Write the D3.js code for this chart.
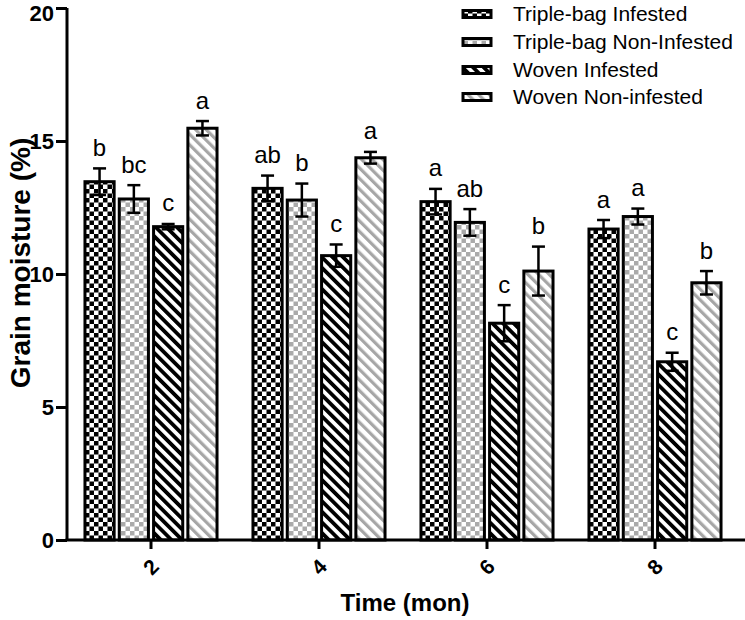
<!DOCTYPE html>
<html><head><meta charset="utf-8">
<script src="https://cdn.jsdelivr.net/npm/d3@7"></script>
<style>body{margin:0;background:#fff}svg{display:block}text{font-family:Arial,"Liberation Sans",sans-serif}</style>
</head><body>
<svg id="c" width="745" height="620"></svg>
<script>
const times = ["2","4","6","8"];
const seriesNames = ["Triple-bag Infested","Triple-bag Non-Infested","Woven Infested","Woven Non-infested"];
const tbInfested = [13.47, 13.22, 12.72, 11.69];
const tbNonInfested = [12.82, 12.78, 11.94, 12.16];
const wovenInfested = [11.78, 10.69, 8.15, 6.70];
const wovenNonInfested = [15.48, 14.37, 10.11, 9.67];
const tbInfestedErr = [0.50, 0.48, 0.48, 0.34];
const tbNonInfestedErr = [0.52, 0.62, 0.50, 0.30];
const wovenInfestedErr = [0.10, 0.42, 0.68, 0.34];
const wovenNonInfestedErr = [0.27, 0.22, 0.92, 0.44];
const tbInfestedLetters = ["b","ab","a","a"];
const tbNonInfestedLetters = ["bc","b","ab","a"];
const wovenInfestedLetters = ["c","c","c","c"];
const wovenNonInfestedLetters = ["a","a","b","b"];
const yTicks = [0,5,10,15,20];

const values = [tbInfested, tbNonInfested, wovenInfested, wovenNonInfested];
const errs = [tbInfestedErr, tbNonInfestedErr, wovenInfestedErr, wovenNonInfestedErr];
const letters = [tbInfestedLetters, tbNonInfestedLetters, wovenInfestedLetters, wovenNonInfestedLetters];

const svg = d3.select("#c");
const defs = svg.append("defs");
function checker(id, col){
  const p = defs.append("pattern").attr("id",id).attr("patternUnits","userSpaceOnUse").attr("width",9).attr("height",9);
  p.append("rect").attr("width",9).attr("height",9).attr("fill","#fff");
  p.append("rect").attr("width",4.5).attr("height",4.5).attr("fill",col);
  p.append("rect").attr("x",4.5).attr("y",4.5).attr("width",4.5).attr("height",4.5).attr("fill",col);
}
function stripes(id, col, w){
  const p = defs.append("pattern").attr("id",id).attr("patternUnits","userSpaceOnUse").attr("width",7.5).attr("height",7.5).attr("patternTransform","rotate(-45)");
  p.append("rect").attr("width",7.5).attr("height",7.5).attr("fill","#fff");
  p.append("rect").attr("width",w).attr("height",7.5).attr("fill",col);
}
checker("p0","#000");
checker("p1","#aaaaaa");
stripes("p2","#000",3.8);
stripes("p3","#a6a6a6",3.2);
const fills = ["url(#p0)","url(#p1)","url(#p2)","url(#p3)"];

const x0 = d3.scaleBand().domain(times).range([67,739]).paddingInner(0.214).paddingOuter(0.107);
const x1 = d3.scaleBand().domain(d3.range(4)).range([0,x0.bandwidth()]).paddingInner(0.15);
const y = d3.scaleLinear().domain([0,20]).range([540,8]);

const g = svg.append("g");
times.forEach((t,i)=>{
  const grp = g.append("g").attr("transform",`translate(${x0(t)},0)`);
  for(let s=0;s<4;s++){
    const v = values[s][i], e = errs[s][i];
    const bx = x1(s), bw = x1.bandwidth(), cx = bx+bw/2;
    grp.append("rect").attr("x",bx).attr("y",y(v)).attr("width",bw).attr("height",y(0)-y(v))
      .attr("fill",fills[s]).attr("stroke","#000").attr("stroke-width",3);
    grp.append("line").attr("x1",cx).attr("x2",cx).attr("y1",y(v-e)).attr("y2",y(v+e)).attr("stroke","#000").attr("stroke-width",2.5);
    grp.append("line").attr("x1",cx-6.5).attr("x2",cx+6.5).attr("y1",y(v+e)).attr("y2",y(v+e)).attr("stroke","#000").attr("stroke-width",2.5);
    grp.append("line").attr("x1",cx-6.5).attr("x2",cx+6.5).attr("y1",y(v-e)).attr("y2",y(v-e)).attr("stroke","#000").attr("stroke-width",2.5);
    grp.append("text").attr("x",cx).attr("y",y(v+e)-12.5).attr("text-anchor","middle").attr("font-size",24).text(letters[s][i]);
  }
});

const FF = "Arial,'Liberation Sans',sans-serif";
// Y axis
const yAxis = svg.append("g").attr("transform","translate(67,0)")
  .call(d3.axisLeft(y).tickValues(yTicks).tickSize(11).tickPadding(2));
yAxis.select(".domain").attr("stroke-width",3).attr("d","M0,"+y(20)+"V"+y(0));
yAxis.selectAll(".tick line").attr("stroke-width",3);
yAxis.selectAll(".tick text").attr("font-size",22).attr("font-weight","bold").attr("fill","#000").attr("font-family",FF)
  .attr("dy", d => d === 20 ? "0.55em" : "0.32em");

// X axis
const xAxis = svg.append("g").attr("transform","translate(0,540)")
  .call(d3.axisBottom(x0).tickSize(9).tickPadding(10).tickSizeOuter(0));
xAxis.select(".domain").attr("stroke-width",3).attr("d","M65.5,0H745");
xAxis.selectAll(".tick line").attr("stroke-width",3);
xAxis.selectAll(".tick text").attr("font-size",21).attr("font-weight","bold").attr("fill","#000")
  .attr("font-family",FF).attr("text-anchor","middle")
  .attr("transform","translate(0,27) rotate(-45)").attr("dy","0.35em").attr("y",0);

// Axis titles
svg.append("text").attr("transform","translate(30,263) rotate(-90)").attr("text-anchor","middle")
  .attr("font-size",28).attr("font-weight","bold").text("Grain moisture (%)");
svg.append("text").attr("x",405).attr("y",611).attr("text-anchor","middle")
  .attr("font-size",24).attr("font-weight","bold").text("Time (mon)");

// Legend
const legYs = [14,42,70,97];
seriesNames.forEach((n,i)=>{
  svg.append("rect").attr("x",463).attr("y",legYs[i]-3.5).attr("width",28).attr("height",7)
    .attr("fill",fills[i]).attr("stroke","#000").attr("stroke-width",3);
  svg.append("text").attr("x",513).attr("y",legYs[i]).attr("dy","0.35em").attr("font-size",21).text(n);
});
</script>
</body></html>
